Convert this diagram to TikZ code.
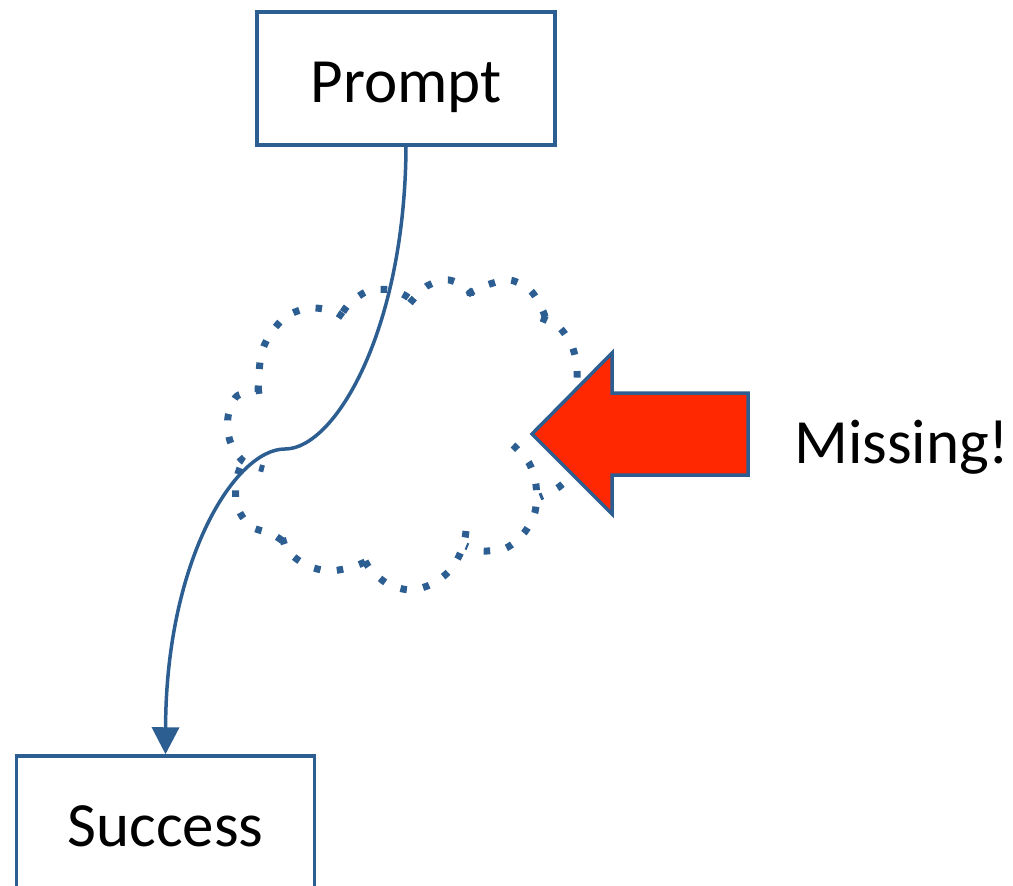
\documentclass[tikz,border=0pt]{standalone}
\usepackage{fontspec}
\setmainfont{Carlito}
\usetikzlibrary{arrows.meta}
\definecolor{lineblue}{RGB}{44,94,146}
\definecolor{arrowred}{RGB}{255,40,0}
\begin{document}
\begin{tikzpicture}[x=1pt,y=-1pt,
  box/.style={draw=lineblue, line width=3.5pt, fill=white, minimum width=298pt,
    minimum height=133pt, text height=47pt, text depth=0pt, inner sep=0pt,
    font=\fontsize{63}{70}\selectfont},
  label/.style={font=\fontsize{63}{70}\selectfont, inner sep=0pt, anchor=base west},
  conn/.style={draw=lineblue, line width=3.5pt, -{Triangle[width=27pt,length=27pt]}},
  puff/.style={draw=lineblue, line width=7pt, line cap=butt, dash pattern=on 6.5pt off 16.5pt},
  bigarrow/.style={draw=lineblue, line width=3.5pt, fill=arrowred, line join=miter}]
\useasboundingbox (0,0) rectangle (1013,886);
\begin{scope}
\clip (0,0) rectangle (1013,886);

% dotted cloud, one lobe at a time
\draw[puff] plot[smooth] coordinates {(258,392) (261,355) (271,333) (287,316) (309,308) (333,311) (347,320)};
\draw[puff] plot[smooth] coordinates {(343,312) (350,303) (368,291) (392,290) (410,299) (412,311)};
\draw[puff] plot[smooth] coordinates {(410,303) (427,286) (449,280) (469,291) (470,305)};
\draw[puff] plot[smooth] coordinates {(468,294) (487,285) (510,280) (531,291) (543,311) (546,322)};
\draw[puff] plot[smooth] coordinates {(541,318) (559,327) (572,346) (577,369) (576,400) (572,440) (565,481) (540,497)};
\draw[puff] plot[smooth] coordinates {(513,445) (529,463) (536,485) (535,512) (524,533) (506,548) (482,551) (466,546)};
\draw[puff] plot[smooth] coordinates {(466,531) (463,547) (452,568) (434,583) (411,590) (388,584) (370,569) (363,556)};
\draw[puff] plot[smooth] coordinates {(365,562) (352,567) (329,571) (306,565) (287,550) (281,531)};
\draw[puff] plot[smooth] coordinates {(240,468) (236,482) (237,506) (250,526) (272,534) (284,542)};
\draw[puff] plot[smooth] coordinates {(262,390) (237,396) (228,417) (230,441) (243,461) (264,469)};

% boxes
\node[box] (prompt) at (406,78.5) {Prompt};
\node[box] (success) at (165.5,822.5) {Success};

% connector with its S-bend
\coordinate (bend) at (285,449);
\draw[conn] (prompt.south) .. controls (405,330) and (335,449) .. (bend)
  .. controls (235,449) and (166,560) .. (success.north);

% block arrow pointing into the cloud
\draw[bigarrow] (532,434) -- (612,353) -- (612,393) -- (748,393) -- (748,475)
  -- (612,475) -- (612,514) -- cycle;

\node[label] (missing) at (794,463) {Missing!};
\end{scope}
\end{tikzpicture}
\end{document}
